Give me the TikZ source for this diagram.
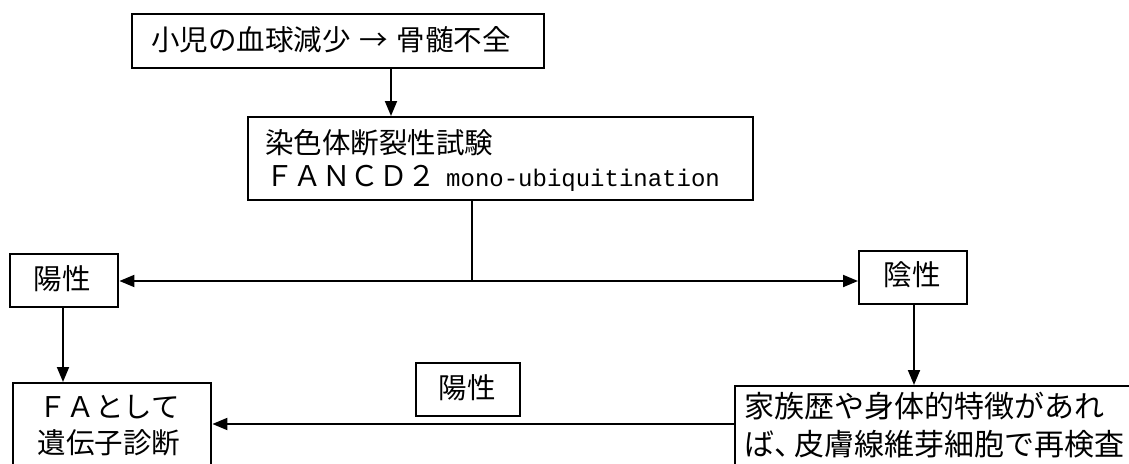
\documentclass[tikz,border=0pt]{standalone}
\usepackage{fontspec}
\newfontfamily\jp{Noto Sans CJK JP}
\newfontfamily\mono{Liberation Mono}
\usetikzlibrary{arrows.meta}
\begin{document}
\begin{tikzpicture}[x=1pt,y=-1pt,
  box/.style={draw, line width=2.4pt, inner sep=0pt, anchor=north west},
  conn/.style={line width=1.9pt},
  arr/.style={conn, -{Triangle[length=15pt,width=12pt]}},
  lbl/.style={font=\jp\fontsize{28.5}{30}\selectfont, inner sep=0pt},
  lblb/.style={font=\jp\fontsize{30}{31}\selectfont, inner sep=0pt, anchor=west}]
\useasboundingbox (0,0) rectangle (1129,463);
\fill[white] (0,0) rectangle (1129,463);
\clip (0,0) rectangle (1129,463);
% boxes
\node[box, minimum width=412pt, minimum height=54pt] (top) at (131,13) {};
\node[lbl] (toptext) at (331,40) {小児の血球減少\hspace{9pt}→\hspace{9pt}骨髄不全};
\node[box, minimum width=505pt, minimum height=83pt] (test) at (247,116) {};
\node[lbl, anchor=west] (t1) at (265,143) {染色体断裂性試験};
\node[lbl, anchor=west] (t2) at (265,178) {ＦＡＮＣＤ２\hspace{10pt}{\mono\fontsize{24}{25}\selectfont mono-ubiquitination}};
\node[box, minimum width=108pt, minimum height=53pt] (pos) at (9,253) {};
\node[lbl] (postext) at (62,279) {陽性};
\node[box, minimum width=108pt, minimum height=53pt] (neg) at (858,250) {};
\node[lbl] (negtext) at (912,275) {陰性};
\node[box, minimum width=198pt, minimum height=95pt] (fa) at (12,382) {};
\node[lbl] (fa1) at (109,407) {ＦＡとして};
\node[lbl] (fa2) at (109,443) {遺伝子診断};
\node[box, minimum width=420pt, minimum height=95pt] (retest) at (734,385) {};
\node[lblb] (r1) at (744,406) {家族歴や身体的特徴があれ};
\node[lblb] (r2) at (744,444) {ば、\kern-10pt 皮膚線維芽細胞で再検査};
\node[box, minimum width=104pt, minimum height=53pt] (poslbl) at (415,362) {};
\node[lbl] (poslbltext) at (467,388) {陽性};
% connectors
\coordinate (c1) at (391,0);
\draw[arr] (top.south -| c1) -- (test.north -| c1);
\coordinate (split) at (472,281);
\draw[conn] (test.south -| split) -- (split);
\draw[arr] (split) -- (pos.east |- split);
\draw[arr] (split) -- (neg.west |- split);
\coordinate (c2) at (63,0);
\draw[arr] (pos.south -| c2) -- (fa.north -| c2);
\coordinate (c3) at (914,0);
\draw[arr] (neg.south -| c3) -- (retest.north -| c3);
\coordinate (c4) at (0,424);
\draw[arr] (retest.west |- c4) -- (fa.east |- c4);
\end{tikzpicture}
\end{document}
